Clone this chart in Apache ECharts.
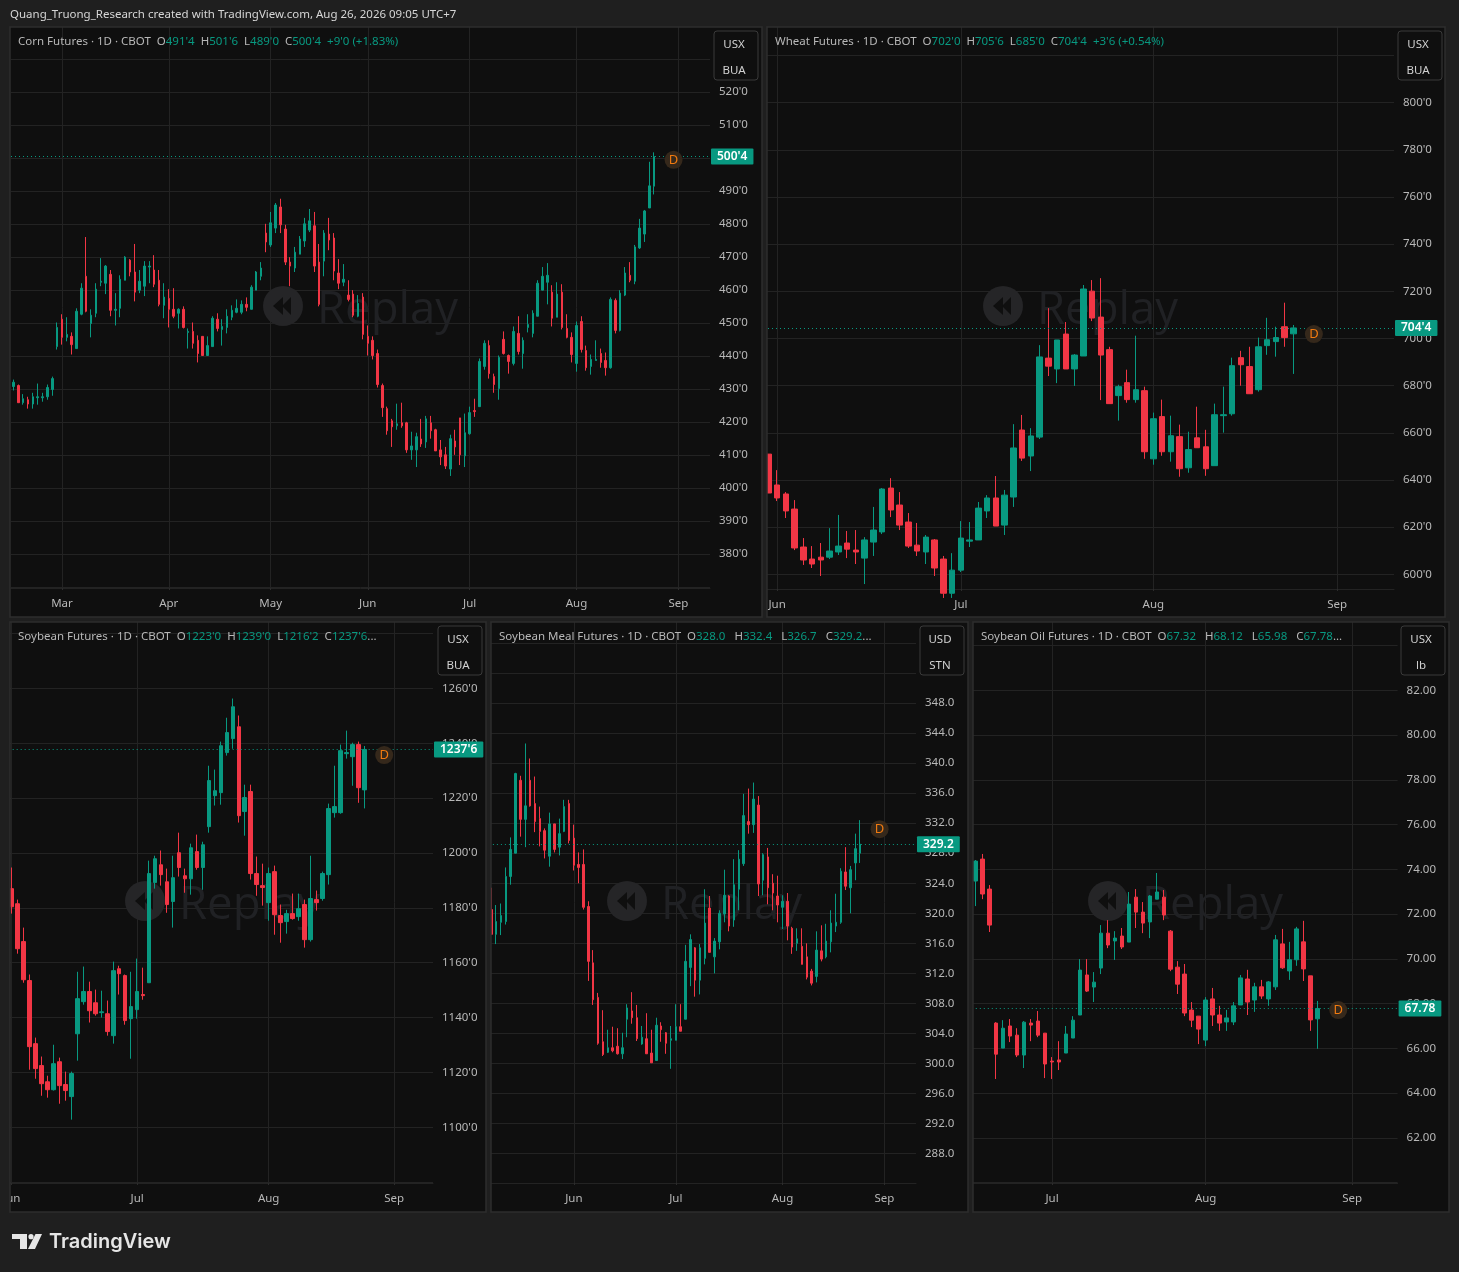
<!DOCTYPE html>
<html><head><meta charset="utf-8">
<style>html,body{margin:0;padding:0;background:#1f1f1f}#c{width:1459px;height:1272px}</style>
<script src="https://cdn.jsdelivr.net/npm/echarts@6/dist/echarts.min.js"></script>
</head><body><div id="c"></div>
<script>
// rows are [open, close, low, high]
const cornOHLC=[[430.8,432.1,429.6,432.9],[431.1,425.9,425.9,431.4],[425.9,427.1,425.3,428.5],[426.8,425.5,424.1,427.7],[425.5,427.7,424.1,428.9],[427.4,427.7,425.3,431.7],[427.4,427.7,426.2,428.9],[427.7,430.5,426.8,431.4],[429.9,433.2,428,433.8],
[442.9,448.7,442,450.2],[451.2,445.7,443.5,452.7],[445.7,446.6,444.5,451.8],[446,443.5,440.5,447.2],[442.3,453.6,442.3,454.5],[452.7,460.6,452.4,462.1],[464.2,453.6,453.3,476.1],
[449.9,452.4,445.7,454.2],[453,460.3,451.8,462.1],[462.4,462.7,461.2,469.7],[462.1,467.3,458.8,467.6],[464.8,453.9,452.1,466.1],[453.9,454.2,449.3,459.1],[454.5,463.3,451.8,464.5],[463,470,463,470.3],
[469.1,465.5,464.2,469.4],[465.5,459.4,456.6,474],[460,462.7,459.1,466.1],[461.2,467.3,458.2,468.8],[467,467.3,462.1,468.8],[466.1,461.8,460.9,470.6],[463,455.7,455.1,466.1],
[455.4,457.9,451.5,462.1],[457.5,454.2,448.7,460.3],[454.2,452.1,451.5,460.6],[453,454.2,448.4,454.5],[454.2,448.7,448.4,455.1],[447.2,447.5,442.3,448.4],[447.5,443.9,442.3,450.2],
[444.8,440.8,438.1,446.3],[446,440.2,440.2,446],[440.2,443.2,440.2,446],[442.9,451.5,442.9,452.1],[451.2,448.4,447.5,453],[448.1,449,443.2,451.2],[448.7,452.1,446.9,454.2],
[451.8,453.9,450.9,455.4],[453.3,454.5,453,457.2],[453.3,455.7,452.7,456.9],[455.7,454.8,453.6,457.8],[454.2,460.9,454.2,461.5],[460,465.5,460,465.8],[464.2,466.7,463,468.5],
[477.3,474.6,471.5,480.1],[473.7,480.4,473.1,483.7],[478.8,485.8,477.3,486.4],[485.2,479.8,477.3,487.7],[478.5,468.5,467.6,479.8],[468.5,467.3,461.2,470],[466.7,471.5,465.5,473.1],
[470.9,475.5,470.9,476.4],[474.9,480.1,473.1,481.9],[478.2,481,477.6,484.6],[479.5,467.3,465.5,483.7],[468.5,455.7,455.1,474],[468.8,477.3,464.2,478.2],[477,475.2,472.1,481.9],
[475.8,465.8,463,477.3],[465.2,462.1,460.3,469.4],[462.4,463.3,461.2,467.9],[458.5,457.2,456.6,463],[458.8,452.4,451.8,460],[452.1,456,451.8,458.5],[457.9,446.6,445.1,459.1],
[446,443.9,440.2,449.3],[444.8,440.2,439,446],[440.8,431.4,430.5,442],
[431.1,424.4,421.6,431.7],[424.1,417.4,416.2,424.7],[420.4,418.6,412.5,421],[418.9,419.5,417.7,425.6],[419.8,418.9,418.3,425.9],[419.8,411.6,410.7,420.1],[411.6,412.8,408.6,417.1],
[411.6,415.6,406.4,416.8],[414.9,413.4,412.5,421],[414,421,412.2,421.9],[419.8,417.4,415,421.9],[417.7,411.3,411.3,418],[411.6,409.5,407,414.6],[410.1,406.7,405.8,412.5],
[405.8,415,403.7,416.2],[414.3,412.5,410.1,417.7],[421.3,410.1,407,421.3],[409.8,416.8,406.4,422.6],[416.5,422.9,416.2,424.7],[423.5,423.2,421.6,427.1],[424.7,438.4,424.7,439.3],
[436.9,443.9,435.9,444.8],[443.2,434.7,433.2,444.8],[433.8,431.4,428.9,434.7],[430.2,439.6,426.8,440.2],[445.1,440.8,440.5,447.5],[440.2,438.4,434.7,440.5],[437.8,447.5,437.2,449],
[446.9,441.4,440.5,452.1],[440.8,444.8,436.2,445.7],[448.7,449.6,447.2,452.7],[446.9,453,445.7,453.9],[452.1,462.1,452.1,463],[460,464.2,460,467],[462.4,464.5,455.7,468.2],
[459.4,451.5,449,461.5],[451.8,458.8,451.8,462.4],[459.4,448.7,448.1,461.8],[448.4,445.7,445.4,452.7],[445.7,440.5,438.1,447.2],[437.8,449.3,435.3,450.5],[450.5,442,441.1,452.1],
[441.7,436.5,435.6,443.2],[436.9,439,434.4,440.5],[438.7,439,438.7,444.8],[440.8,438.1,436.5,442.3],[438.7,436.5,434.1,441.1],[436.5,457.2,436.2,457.8],[456.9,447.8,446.9,457.5],
[447.8,459.1,447.5,460],[458.5,465.2,458.2,467],[464.5,463,462.4,468.5],[462.7,473.1,461.8,473.7],[472.8,478.8,472.5,481.6],[477,484,474.6,484.3],[484.9,491.6,484.9,498.9],
[491.5,500.5,489,501.75]];
const wheatOHLC=[[651,634.5,634.5,651],[637.9,632.4,631.1,644.2],[634.1,626.9,623.9,634.9],[627.7,611.2,610.3,631.5],[611.6,606.1,604,615.4],[606.5,604.4,602.7,612],[607.3,606.1,599.3,613.3],
[607.3,609.9,606.5,619.6],[609.5,612,608.2,625.2],[613.3,610.7,606.9,618.4],[610.3,609.5,604.4,618.8],[606.9,614.6,595.9,615.8],[613.7,618.8,607.8,628.6],[618,636.2,617.1,636.6],
[636.6,627.3,624.3,640.8],[629.4,620.9,618.8,634.9],[622.2,612,611.2,626],[612.4,609.9,607.8,621.8],[609.5,615.8,604.4,616.7],[614.6,602.7,599.3,615],[606.5,592,590,607.8],
[592,601.8,590,609],[601.8,615.4,601,622.6],[614.1,614.6,611.6,622.2],[614.6,628.1,614.6,630.7],[626.9,632.4,623.9,633.6],[632.4,620.5,620.5,641.7],[620.9,633.6,616.7,635.8],
[632.8,653.6,628.6,663.7],[661.2,649.3,648.1,667.6],[650.2,658.7,643.8,662],[658.2,692.2,657.4,697.2],[691.7,688.3,684.1,712.9],[687.1,699.4,681.1,699.4],[701.9,687.1,687.1,707],
[687.1,693,679.9,693.4],[692.6,721,692.6,722.7],[720.1,708.7,707.4,724.8],[709.1,693,673.9,725.6],
[695.3,672.4,672.4,696.5],[675.8,679.6,665.2,680.4],[681.3,674.1,672.8,686.8],[674.1,678.3,672.8,701.2],[677.9,652,649,679.6],[649,666,646.5,668.6],[666.9,652,650.3,674.1],
[652,658.8,647.8,667.3],[658.4,644.8,641.4,663.5],[645.2,652.9,643.1,660.5],[657.9,653.7,653.7,671.1],[654.1,644.8,641.8,661.3],[646.1,667.7,646.1,672.4],[667.3,667.7,660.1,679.6],
[668.1,688.5,667.3,691.9],[691.9,688.9,680,694.8],[688.1,676.6,676.6,696.5],[678.3,696.5,677.5,700.4],[697,699.5,693.1,708.8],[698.7,700.4,692.3,705],[705,700.4,696.5,715.2],
[702,704.5,685,705.75]];
const soybeanOHLC=[[1187,1180.4,1177.9,1194.7],[1181.5,1165.1,1163.3,1183],[1167.7,1153.8,1152.7,1172.8],[1153.5,1129.4,1121,1155.7],[1130.5,1121.4,1117.7,1132.7],[1122.5,1115.9,1111.5,1125.8],[1116.6,1113.7,1110.8,1118.8],
[1113.7,1123.2,1113.4,1130.1],[1123.9,1115.2,1108.6,1125.4],[1115.6,1113.4,1109.7,1120.3],[1111.2,1119.6,1102.8,1120.3],[1134.1,1146.9,1124.3,1156.7],[1145.8,1149.5,1144.7,1158.6],[1149.5,1142.5,1138.2,1153.1],
[1145.4,1141.4,1140.7,1150.2],[1141.8,1142.1,1140,1149.8],[1141.4,1134.9,1133.4,1146.2],[1133.4,1157.1,1130.5,1160.4],[1157.8,1156,1148.4,1158.9],[1155.3,1138.9,1137.4,1155.7],[1139.6,1144,1125,1156.7],
[1142.9,1149.5,1139.6,1161.5],[1148.4,1148,1146.5,1158.2],[1152.7,1192.5,1152.7,1197.2],[1189.2,1197.9,1187,1199],[1195.7,1192.1,1188.1,1200.9],[1189.5,1181.2,1178.2,1194.3],[1182.3,1191,1172.8,1199],
[1200.1,1194.7,1191.4,1207.4],[1191.7,1190.6,1185.5,1194.3],[1190.6,1201.9,1184.8,1203.4],[1200.5,1194.7,1193.9,1206.7],[1194.7,1203,1186.6,1204.1],[1209.6,1226.4,1207.4,1231.8],[1220.9,1222.7,1217.3,1230.4],
[1222,1239.1,1217.6,1240.6],[1236.6,1243.9,1235.5,1249.3],[1241.7,1253.3,1238,1256.3],[1246,1213.6,1211.1,1250.1],[1215.1,1220.2,1206.3,1224.9],[1222.4,1192.5,1190.3,1224.9],[1192.5,1188.5,1184.4,1198.7],
[1188.1,1187.4,1180.8,1196.1],[1181.9,1192.5,1175.3,1194.7],[1193.2,1177.5,1170.2,1195.4],[1177.2,1174.6,1167.3,1181.2],[1175,1177.9,1170.6,1179.3],[1177.9,1176.1,1175.7,1185.2],[1176.8,1179.7,1175.3,1185.2],
[1181.2,1168.4,1165.5,1183],[1168.4,1183.4,1167.7,1199],[1183,1181.9,1179,1186.3],[1183.4,1192.5,1182.6,1193.2],[1192.1,1216.2,1188.5,1218],[1214.7,1216.9,1212.9,1231.8],[1214.7,1237.3,1214.3,1239.5],
[1236.2,1236.6,1234.4,1244.6],[1235.1,1239.5,1224.5,1240.2],[1239.5,1223.8,1218.3,1240.6],[1223,1237.75,1216.25,1239]];
const mealOHLC=[[320.5,317.2,317.2,323.4],[317.2,318.9,315.9,321.1],[318.8,319.7,317.1,321.3],[318.9,324.9,318.5,326.1],[324.9,328.5,323.8,330.1],[328,338.6,328,338.7],[337.7,332.5,330.2,338.3],
[332.5,334.3,328.8,342.6],[337.7,334.3,334.2,340.6],[334.6,332.2,330.8,338.2],[332.6,330.9,328.9,334.2],[331,328.4,327.3,331.3],[327.6,331.9,326.2,333.4],[331.9,328.5,328.1,331.9],
[328.8,330.6,327.7,332.6],[330.9,334.2,330.8,335.1],[334.6,329.7,329.3,335.1],[330,326.4,325.7,331.8],[326.5,326.1,324,328.1],[326.5,320.8,320.5,328.5],[320.9,313.6,311,321.6],
[313.4,308.5,307.8,315.1],[308.8,302.7,302.5,309.4],[302.9,301.2,301,307.1],[301.5,302.1,301.4,304.5],[302.1,301.7,301.5,304.9],[302.3,301.3,301.2,304.7],[301.3,302.1,300.6,304.1],
[305.9,307.4,303.5,307.9],[307,306.1,305.3,309.5],[306.1,303.3,303,307.8],[302.6,303.5,302.5,305],[303.3,301.3,301.3,306.7],[301.4,300.1,300.1,304.5],[300.4,305.1,300.4,306.1],
[305,304.5,302.9,305.5],[304.1,302.7,301.3,304.2],[303.1,303.3,299.3,305],[303.1,304.9,303.1,307.9],[304.9,304.3,304.3,307.9],[305.9,313.6,305.9,315.8],[312.8,316.5,310.3,317.2],
[315.4,311.1,308.9,315.5],
[311.1,315.4,309.2,315.9],[314,318.7,313.2,323.2],[320.7,314.8,314.8,322.3],[314.2,316.3,312,316.7],[316.2,320,315.2,320.4],[319.9,322.4,318.8,325.8],[322.3,318.3,317.6,322.4],
[319.1,323.8,318.2,327.2],[323.2,327.2,320.4,328.4],[326.6,333,326.3,335.9],[332.2,331.8,330.6,336.6],[331.8,335.2,330.7,337.4],[334.4,323.9,322.3,335.6],[324.4,327.8,322.4,328],
[327.5,323.4,321.2,328.7],[324,322.7,320.4,325.2],[322.3,321.1,318.8,325],[320.8,321.6,317.9,322.4],[321.6,318.3,316.4,322.7],[318,315.5,314.6,318.2],[316,316.6,315,318],
[315.6,313.2,313.2,318],[314.2,311.5,311.2,316],[312.3,310.7,310.4,312.6],[311.6,315.1,310.8,317.6],[315,313.9,313.6,318.4],[314.2,316.3,314,318.6],[316.2,318.7,314.8,320.4],
[318.3,318.8,317.5,322.6],[318.8,325.6,318.6,326],[325.5,323.6,323.1,328.8],[323.4,325.8,320,326.3],[326.7,328.6,324.4,330.6],[328,329.2,326.7,332.4]];
const oilOHLC=[[73.48,74.37,72.36,74.42],[74.46,72.9,72.67,74.69],[73.12,71.51,71.2,73.3],[67.13,65.74,64.63,67.17],[66.01,66.9,66.01,67.26],[67,66.55,66.28,67.31],[66.59,65.7,65.61,66.9],
[65.7,67.17,65.12,67.22],[67.13,67.04,66.32,67.31],[67.22,66.59,66.5,67.67],[66.68,65.3,64.67,66.68],[65.43,65.39,64.63,65.61],[65.48,65.39,65.03,66.32],[65.79,66.64,65.79,67],
[66.46,67.26,66.46,67.44],[67.49,69.5,67.49,69.99],[69.28,68.56,68.52,69.99],[68.74,68.96,68.07,69.41],[69.59,71.15,69.32,71.51],[71.15,70.62,70.48,71.73],[70.8,70.93,69.95,71.24],
[71.02,70.53,70.44,71.38],[70.75,72.45,70.75,72.99],[72.76,72.09,71.38,73.12],[72.09,71.6,71.15,72.54],[71.65,72.81,70.93,72.85],[72.67,72.99,72.67,73.84],[72.76,71.96,71.73,73.08],
[71.24,69.54,69.45,71.29],[69.63,68.87,68.43,69.9],[69.32,67.58,67.44,69.77],[67.71,67.26,66.95,68.07],[67.44,66.86,66.19,67.44],[66.37,68.16,66.1,68.29],
[68.21,67.49,67,68.7],[67.49,67.13,66.78,67.9],[67.18,67.36,66.78,67.72],[67.18,67.9,67.04,68.07],[67.94,69.15,67.94,69.28],[69.1,68.07,67.49,69.51],[68.16,68.75,67.63,68.93],
[68.75,68.34,68.21,69.06],[68.21,68.97,67.9,69.01],[68.75,70.85,68.61,71.07],[70.67,69.6,69.55,71.34],[69.46,69.96,69.06,70.76],[69.96,71.34,69.69,71.43],[70.76,69.55,69.01,71.7],
[69.24,67.27,66.78,69.24],[67.32,67.78,65.98,68.12]];

const cornTicks=[380,390,400,410,420,430,440,450,460,470,480,490,500,510,520];
const wheatTicks=[600,620,640,660,680,700,720,740,760,780,800];
const soybeanTicks=[1100,1120,1140,1160,1180,1200,1220,1240,1260];
const mealTicks=[288,292,296,300,304,308,312,316,320,324,328,332,336,340,344,348];
const oilTicks=[62,64,66,68,70,72,74,76,78,80,82];
const cornGrid=[370,530];
const wheatGrid=[820];
const soybeanGrid=[1080,1280];
const mealGrid=[284,352,356];
const oilGrid=[60,84];

const cornMonths={10:'Mar',32:'Apr',53:'May',73:'Jun',94:'Jul',116:'Aug',137:'Sep'};
const wheatMonths={1:'Jun',22:'Jul',44:'Aug',65:'Sep'};
const soybeanMonths={0:'Jun',21:'Jul',43:'Aug',64:'Sep'};
const mealMonths={17:'Jun',38:'Jul',60:'Aug',81:'Sep'};
const oilMonths={11:'Jul',33:'Aug',54:'Sep'};

const BG='#1f1f1f',PANEL='#0f0f0f',EDGE='#2e2e2e',GRID='#232323',UP='#089981',DOWN='#f23645',TXT='#b8b8b8';
const FONT='"Noto Sans", sans-serif';
const frac=v=>v+"'0";
const panels=[
 {name:'Corn Futures',ohlc:cornOHLC,months:cornMonths,slots:144,ticks:cornTicks,grid:cornGrid,fmt:frac,labelPad:[0,0,2,0],
  min:369.75,max:539.74,rect:[11,27,710,588],box:[10,27,752,590],bw:2,last:"500'4",lastV:500.5,d:[136,499.5,0],
  head:[['n',"O"],['v',"491'4"],['n',"  H"],['v',"501'6"],['n',"  L"],['v',"489'0"],['n',"  C"],['v',"500'4"],['v',"  +9'0 (+1.83%)"]],
  unit:['USX','BUA'],ux:714,wm:[283,306]},
 {name:'Wheat Futures',ohlc:wheatOHLC,months:wheatMonths,slots:72,ticks:wheatTicks,grid:wheatGrid,fmt:frac,
  min:593.8,max:832.1,rect:[764,27,1394,589],box:[767,27,678,590],bw:6,last:"704'4",lastV:704.5,d:[62,701.9,3],
  head:[['n',"O"],['v',"702'0"],['n',"  H"],['v',"705'6"],['n',"  L"],['v',"685'0"],['n',"  C"],['v',"704'4"],['v',"  +3'6 (+0.54%)"]],
  unit:['USX','BUA'],ux:1398,wm:[1003,306]},
 {name:'Soybean Futures',ohlc:soybeanOHLC,months:soybeanMonths,slots:71,ticks:soybeanTicks,grid:soybeanGrid,fmt:frac,
  min:1079.7,max:1284.2,rect:[8.3,622,433,1183],box:[10,622,476,590],bw:4,last:"1237'6",lastV:1237.75,d:[62,1235.7,2],
  head:[['n',"O"],['v',"1223'0"],['n',"  H"],['v',"1239'0"],['n',"  L"],['v',"1216'2"],['n',"  C"],['v',"1237'6"],['n',"..."]],
  unit:['USX','BUA'],ux:438,wm:[145,901]},
 {name:'Soybean Meal Futures',ohlc:mealOHLC,months:mealMonths,slots:88,ticks:mealTicks,grid:mealGrid,fmt:v=>v.toFixed(1),
  min:284.1,max:358.77,rect:[488.9,622,916,1183],box:[491,622,477,590],bw:2,last:"329.2",lastV:329.2,d:[80,331.2,0],
  head:[['n',"O"],['v',"328.0"],['n',"   H"],['v',"332.4"],['n',"   L"],['v',"326.7"],['n',"   C"],['v',"329.2"],['n',"..."]],
  unit:['USD','STN'],ux:920,wm:[627,901]},
 {name:'Soybean Oil Futures',ohlc:oilOHLC,months:oilMonths,slots:61,ticks:oilTicks,grid:oilGrid,fmt:v=>v.toFixed(2),
  min:59.98,max:85.06,rect:[971.8,622,1397.6,1183],box:[973,622,476,590],bw:4,last:"67.78",lastV:67.78,d:[52,67.71,0],
  head:[['n',"O"],['v',"67.32"],['n',"   H"],['v',"68.12"],['n',"   L"],['v',"65.98"],['n',"   C"],['v',"67.78"],['n',"..."]],
  unit:['USX','lb'],ux:1401,wm:[1108,901]}
];
const rich={n:{color:TXT,fontSize:11.5,fontWeight:'normal',fontFamily:FONT},v:{color:UP,fontSize:11.5,fontWeight:'normal',fontFamily:FONT}};
const grids=[],xAxes=[],yAxes=[],series=[],titles=[],graphics=[];
titles.push({text:"Quang_Truong_Research created with TradingView.com, Aug 26, 2026 09:05 UTC+7",left:10,top:9,padding:0,
  textStyle:{color:'#d6d6d6',fontSize:11.5,fontWeight:'normal',fontFamily:FONT}});
graphics.push({type:'rect',z:50,silent:true,shape:{x:0,y:0,width:10,height:1272},style:{fill:BG}});
graphics.push({type:'rect',z:50,silent:true,shape:{x:762,y:27,width:5,height:590},style:{fill:BG}});
graphics.push({type:'rect',z:50,silent:true,shape:{x:486,y:622,width:5,height:590},style:{fill:BG}});
graphics.push({type:'rect',z:50,silent:true,shape:{x:968,y:622,width:5,height:590},style:{fill:BG}});
panels.forEach((p,i)=>{
  const [x0,y0,x1,y1]=p.rect,[bx,by,bw,bh]=p.box;
  grids.push({left:x0,top:y0,width:x1-x0,height:y1-y0,containLabel:false});
  const cats=Array.from({length:p.slots},(_,k)=>p.months[k]||'');
  xAxes.push({type:'category',gridIndex:i,data:cats,boundaryGap:true,
    axisLine:{show:true,lineStyle:{color:GRID}},
    axisTick:{show:true,length:2,alignWithLabel:true,lineStyle:{color:'#2c2c2c'},interval:k=>!!p.months[k]},
    axisLabel:{show:true,color:TXT,fontSize:11.5,fontFamily:FONT,margin:10,hideOverlap:false,interval:k=>!!p.months[k]},
    splitLine:{show:true,alignWithLabel:true,lineStyle:{color:GRID,width:1},interval:k=>!!p.months[k]}});
  const all=[...p.ticks,...p.grid].sort((a,b)=>a-b);
  yAxes.push({type:'value',gridIndex:i,position:'right',min:p.min,max:p.max,scale:true,
    axisLine:{show:false},
    axisTick:{show:false,customValues:all},
    axisLabel:{color:TXT,fontSize:11.5,fontFamily:FONT,margin:9,customValues:p.ticks,formatter:p.fmt,showMinLabel:true,showMaxLabel:true,padding:p.labelPad||0},
    splitLine:{show:true,lineStyle:{color:GRID,width:1}}});
  series.push({type:'candlestick',xAxisIndex:i,yAxisIndex:i,name:p.name,data:p.ohlc,barWidth:p.bw,clip:true,
    itemStyle:{color:UP,color0:DOWN,borderColor:UP,borderColor0:DOWN,borderWidth:1},
    markLine:{silent:true,symbol:'none',animation:false,precision:4,
      lineStyle:{color:UP,type:[1,3],width:1},
      label:{show:true,position:'end',distance:1,formatter:p.last,backgroundColor:UP,color:'#fff',fontSize:12,fontWeight:600,fontFamily:FONT,padding:[2,6,2,6],borderRadius:1},
      data:[{yAxis:p.lastV}]},
    markPoint:{silent:true,animation:false,symbol:'circle',symbolSize:18,symbolOffset:[p.d[2],0],
      itemStyle:{color:'#35281b'},
      label:{show:true,formatter:'D',color:'#f07a10',fontSize:13,fontFamily:FONT,position:'inside'},
      data:[{coord:[p.d[0],p.d[1]]}]}});
  const head='{n|'+p.name+' · 1D · CBOT  }'+p.head.map(h=>'{'+h[0]+'|'+h[1]+'}').join('');
  titles.push({text:head,left:bx+8,top:by+9,padding:0,textStyle:{rich,fontSize:11.5,fontWeight:'normal',fontFamily:FONT}});
  graphics.push({type:'rect',z:-1,silent:true,shape:{x:bx,y:by,width:bw,height:bh},style:{fill:PANEL}});
  graphics.push({type:'rect',z:51,silent:true,shape:{x:bx,y:by,width:bw,height:bh},style:{fill:'none',stroke:EDGE,lineWidth:1.5}});
  // unit button
  const ux=p.ux,uy=by+4;
  graphics.push({type:'rect',z:40,silent:true,shape:{x:ux,y:uy,width:44,height:49,r:3},style:{fill:PANEL,stroke:'#3a3a3a',lineWidth:1}});
  graphics.push({type:'text',z:41,silent:true,style:{x:ux+20,y:uy+14,text:p.unit[0],fill:'#d1d1d1',font:'11.5px '+FONT,textAlign:'center',textVerticalAlign:'middle'}});
  graphics.push({type:'text',z:41,silent:true,style:{x:ux+20,y:uy+40,text:p.unit[1],fill:'#d1d1d1',font:'11.5px '+FONT,textAlign:'center',textVerticalAlign:'middle'}});
  // replay watermark
  const [cx,cy]=p.wm;
  graphics.push({type:'circle',z:1,silent:true,shape:{cx,cy,r:20},style:{fill:'#252527'}});
  graphics.push({type:'polygon',z:1,silent:true,shape:{points:[[cx-10,cy],[cx,cy-9],[cx,cy+9]]},style:{fill:PANEL}});
  graphics.push({type:'polygon',z:1,silent:true,shape:{points:[[cx-1,cy],[cx+8,cy-9],[cx+8,cy+9]]},style:{fill:PANEL}});
  graphics.push({type:'text',z:1,silent:true,style:{x:cx+34,y:cy+5,text:'Replay',fill:'#202124',font:'45.5px "Open Sans", sans-serif',textVerticalAlign:'middle'}});
});
// footer logo
graphics.push({type:'polygon',z:60,silent:true,shape:{points:[[12,1234],[27,1234],[27,1249],[20,1249],[20,1239],[12,1239]]},style:{fill:'#e6e6e6'}});
graphics.push({type:'circle',z:60,silent:true,shape:{cx:31,cy:1236.7,r:2.6},style:{fill:'#e6e6e6'}});
graphics.push({type:'polygon',z:60,silent:true,shape:{points:[[35.5,1234],[42,1234],[35,1249],[28,1249]]},style:{fill:'#e6e6e6'}});
graphics.push({type:'text',z:60,silent:true,style:{x:49,y:1242,text:'TradingView',fill:'#e6e6e6',font:'600 20px Inter, sans-serif',textVerticalAlign:'middle'}});

const chart=echarts.init(document.getElementById('c'),null,{renderer:'canvas'});
chart.setOption({animation:false,backgroundColor:BG,title:titles,grid:grids,xAxis:xAxes,yAxis:yAxes,series,graphic:{elements:graphics},tooltip:{show:false}});
</script></body></html>
